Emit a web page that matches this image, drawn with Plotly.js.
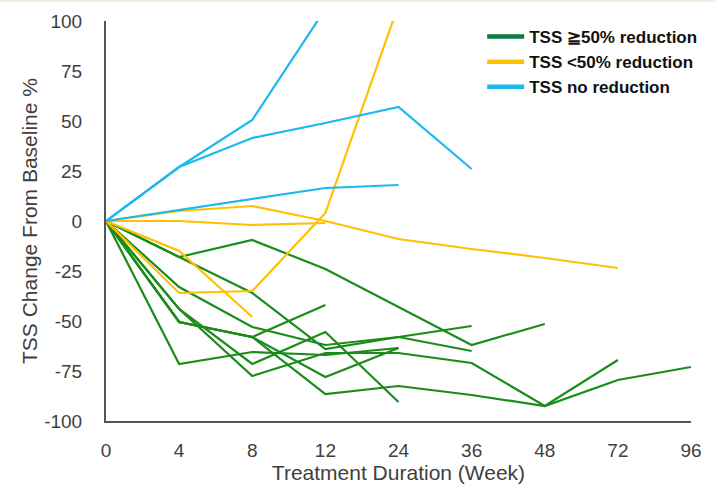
<!DOCTYPE html>
<html>
<head>
<meta charset="utf-8">
<script src="https://cdn.plot.ly/plotly-3.0.1.min.js"></script>
<style>html,body{margin:0;padding:0;background:#fff;}#chart{width:715px;height:485px;}</style>
</head>
<body>
<div id="chart"></div>
<script>
// Category labels (weeks)
const weeks = ['0','4','8','12','24','36','48','72','96'];

// Y tick values and labels
const yTickVals = [-100,-75,-50,-25,0,25,50,75,100];
const yTickText = ['-100','-75','-50','-25','0','25','50','75','100'];

// TSS >=50% reduction (green)
const g1 = [0,-18,-9.5,-24,-43,-62,-51.5];
const g2 = [0,-50.5,-58,-42];
const g3 = [0,-50.5,-58,-78,-63.5];
const g4 = [0,-71.5,-65.5,-67,-63.5];
const g5 = [0,-44,-71.5,-55.5,-90.5];
const g6 = [0,-33,-53,-62,-58,-52.5];
const g7 = [0,-18,-36,-64,-58,-65];
const g8 = [0,-44,-77.5,-66,-66,-71,-92.5,-69.5];
const g9 = [0,-50.5,-58,-86.5,-82.5,-87,-92.5,-79.5,-73];

// TSS <50% reduction (yellow)
const y1 = [0,5,7.5,0,-9,-14,-18.5,-23.5];
const y2 = [0,0,-2,-1];
const y3 = [0,-36,-35,4,108];
const y4 = [0,-15,-48];

// TSS no reduction (blue)
const b1 = [0,27,50.5,106];
const b2 = [0,27,41.5,49,57,26];
const b3 = [0,5.5,11,16.5,18];

const legendNames = ['TSS \u226750% reduction','TSS <50% reduction','TSS no reduction'];

const GREEN = '#1a8c1a', GREEN_LEG = '#0b7a3e', YELLOW = '#ffc000', BLUE = '#1cb9ef';

function line(vals, color){
  return {x: weeks.slice(0, vals.length), y: vals, type:'scatter', mode:'lines',
          line:{color:color, width:2.2}, showlegend:false, hoverinfo:'skip'};
}
const traces = [];
[g1,g2,g3,g4,g5,g6,g7,g8,g9].forEach(v=>traces.push(line(v, GREEN)));
[y1,y2,y3,y4].forEach(v=>traces.push(line(v, YELLOW)));
[b1,b2,b3].forEach(v=>traces.push(line(v, BLUE)));
// legend entries
[[legendNames[0],GREEN_LEG],[legendNames[1],YELLOW],[legendNames[2],BLUE]].forEach(([n,c])=>{
  traces.push({x:[null], y:[null], type:'scatter', mode:'lines', name:n, line:{color:c, width:4.5}, showlegend:true});
});

const layout = {
  width:715, height:485,
  margin:{l:106, r:24, t:21, b:64},
  paper_bgcolor:'#fff', plot_bgcolor:'#fff',
  font:{family:'"Liberation Sans", Arial, sans-serif', color:'#404040', size:18},
  showlegend:true,
  legend:{x:0.643, y:1.005, xanchor:'left', yanchor:'top', bgcolor:'rgba(0,0,0,0)', itemwidth:37,
          font:{family:'"Liberation Sans", Arial, sans-serif', size:17, color:'#111', weight:'bold'},
          tracegroupgap:0},
  xaxis:{type:'category', categoryarray:weeks, categoryorder:'array', range:[0,8],
         showgrid:false, zeroline:false, showline:true, linecolor:'#555', linewidth:2,
         ticks:'', ticklabelstandoff:11, tickfont:{size:19, color:'#404040'},
         title:{text:'Treatment Duration (Week)', font:{size:21, color:'#404040'}, standoff:4}},
  yaxis:{range:[-100,100], tickmode:'array', tickvals:yTickVals, ticktext:yTickText,
         showgrid:false, zeroline:false, showline:true, linecolor:'#555', linewidth:2,
         ticks:'', ticklabelstandoff:18, tickfont:{size:19, color:'#404040'},
         title:{text:'TSS Change From Baseline %', font:{size:21, color:'#404040'}, standoff:1}},
  shapes:[{type:'line', xref:'paper', yref:'paper', x0:-0.2, x1:1.05, y0:1.05, y1:1.05,
           line:{color:'#e6f4dc', width:2}}]
};

Plotly.newPlot('chart', traces, layout, {displayModeBar:false, staticPlot:true});
</script>
</body>
</html>
